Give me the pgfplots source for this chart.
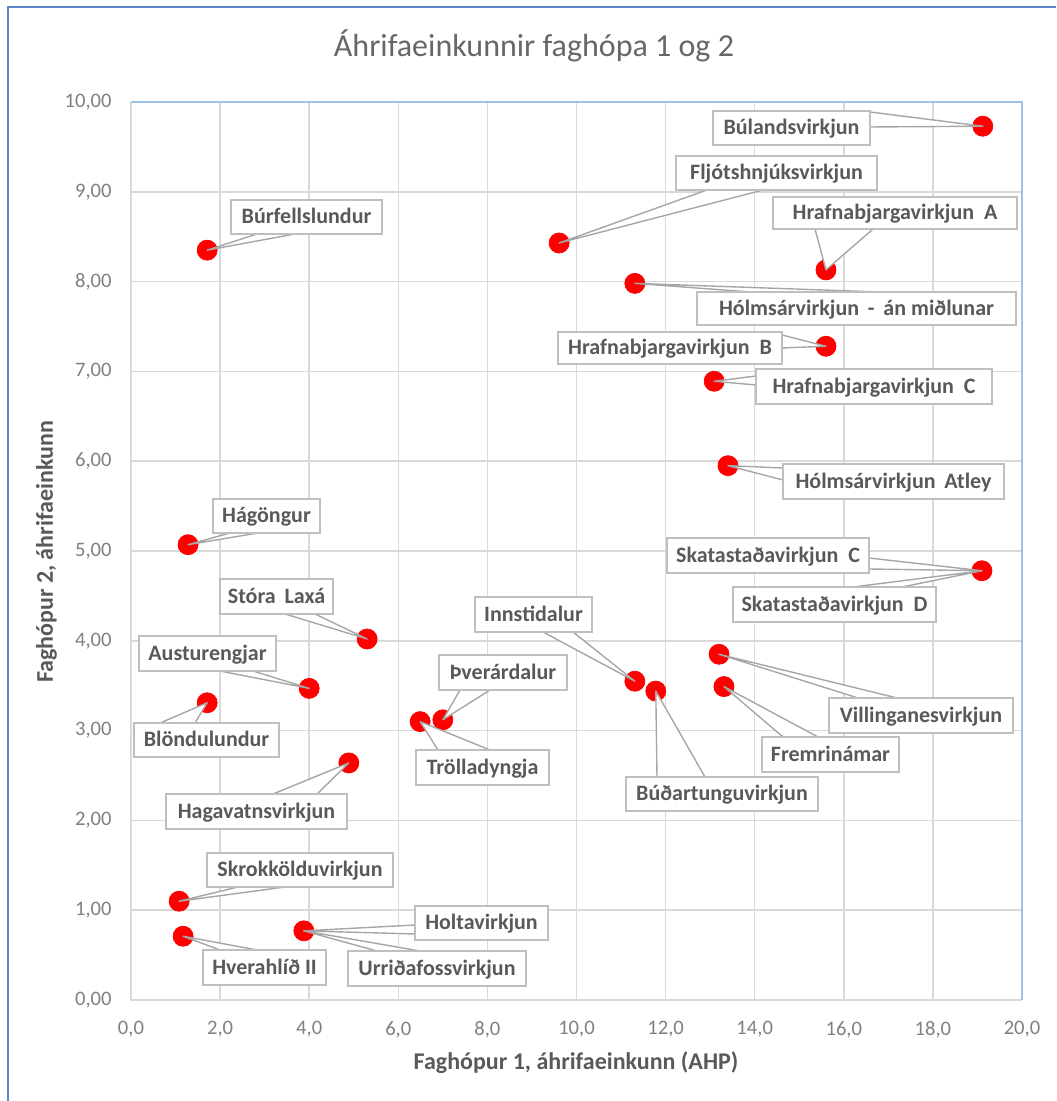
\documentclass[border=0pt]{standalone}
\usepackage{fontspec}
\setmainfont{Carlito}
\usepackage{pgfplots}
\usepackage{pgfplotstable}
\pgfplotsset{compat=1.18}
\definecolor{gridgray}{HTML}{D9D9D9}
\definecolor{txtgray}{HTML}{595959}
\definecolor{titlegray}{HTML}{676767}
\definecolor{tickgray}{HTML}{808080}
\definecolor{boxgray}{HTML}{BFBFBF}
\definecolor{linegray}{HTML}{A6A6A6}
\definecolor{frameblue}{HTML}{5B87C8}
\definecolor{plotblue}{HTML}{9DC3E6}

\pgfplotstableread{
x y
19.12 9.73
9.61 8.43
15.60 8.13
1.71 8.35
11.31 7.98
15.60 7.28
13.09 6.89
13.40 5.95
1.28 5.07
19.10 4.78
5.30 4.02
4.00 3.47
1.71 3.31
11.31 3.55
7.00 3.12
6.49 3.10
11.78 3.44
13.20 3.85
13.31 3.49
4.89 2.64
1.08 1.10
1.17 0.71
3.88 0.77
}\datatab

\newcommand{\labfont}{\fontsize{11}{13}\selectfont\bfseries}
\newcommand{\wdg}[5]{\filldraw[fill=white,draw=linegray,line width=0.7pt,line join=round] (#2,#3) -- (#1) -- (#4,#5);}
\newcommand{\lbl}[5]{\filldraw[fill=white,draw=boxgray,line width=0.75pt] (#1,#3) rectangle (#2,#4);
  \node[anchor=base,inner sep=0pt,font=\labfont,text=txtgray] at ({(#1+#2)/2},{(#3+#4)/2+7}) {#5};}

\begin{document}
\begin{tikzpicture}
\useasboundingbox (-65.5pt,-50.5pt) rectangle (462.5pt,500pt);
\begin{axis}[
  at={(0,0)}, anchor=south west,
  scale only axis, width=445.5pt, height=449pt,
  xmin=0, xmax=20, ymin=0, ymax=10,
  xtick distance=2, ytick distance=1,
  grid=major, major grid style={gridgray, line width=0.75pt},
  major tick length=0pt,
  axis line style={draw=none},
  tick label style={font=\fontsize{10.3}{12}\selectfont, text=tickgray},
  x tick label style={anchor=north, inner sep=0pt, yshift=-10.5pt,
    /pgf/number format/.cd, fixed, fixed zerofill, precision=1, use comma, assume math mode=true, /tikz/.cd},
  y tick label style={anchor=east, inner sep=0pt, xshift=-9.5pt,
    /pgf/number format/.cd, fixed, fixed zerofill, precision=2, use comma, assume math mode=true, /tikz/.cd},
  clip=false,
]
\addplot[only marks, mark=*, mark size=5pt, mark options={fill=red, draw=red}] table {\datatab};
\draw[gridgray, line width=0.75pt] (rel axis cs:0,1) -- (rel axis cs:0,0) -- (rel axis cs:1,0);
\draw[plotblue, line width=0.75pt] (rel axis cs:0,1) -- (rel axis cs:1,1) -- (rel axis cs:1,0);
\path (axis cs:19.12,9.73) coordinate (p1);
\path (axis cs:9.61,8.43) coordinate (p2);
\path (axis cs:15.60,8.13) coordinate (p3);
\path (axis cs:1.71,8.35) coordinate (p4);
\path (axis cs:11.31,7.98) coordinate (p5);
\path (axis cs:15.60,7.28) coordinate (p6);
\path (axis cs:13.09,6.89) coordinate (p7);
\path (axis cs:13.40,5.95) coordinate (p8);
\path (axis cs:1.28,5.07) coordinate (p9);
\path (axis cs:19.10,4.78) coordinate (p10);
\path (axis cs:5.30,4.02) coordinate (p11);
\path (axis cs:4.00,3.47) coordinate (p12);
\path (axis cs:1.71,3.31) coordinate (p13);
\path (axis cs:11.31,3.55) coordinate (p14);
\path (axis cs:7.00,3.12) coordinate (p15);
\path (axis cs:6.49,3.10) coordinate (p16);
\path (axis cs:11.78,3.44) coordinate (p17);
\path (axis cs:13.20,3.85) coordinate (p18);
\path (axis cs:13.31,3.49) coordinate (p19);
\path (axis cs:4.89,2.64) coordinate (p20);
\path (axis cs:1.08,1.10) coordinate (p21);
\path (axis cs:1.17,0.71) coordinate (p22);
\path (axis cs:3.88,0.77) coordinate (p23);
\end{axis}
\begin{scope}[shift={(-65.5pt,500pt)}, x=0.5pt, y=-0.5pt]
\draw[frameblue, line width=1pt] (8,1101) -- (8,7) -- (1056,7);
\node[anchor=base, inner sep=0pt, font=\fontsize{16}{19}\selectfont, text=titlegray] at (534,57) {Áhrifaeinkunnir faghópa 1 og 2};
\node[anchor=base, inner sep=0pt, font=\fontsize{12}{14}\selectfont\bfseries, text=txtgray] at (576,1069) {Faghópur 1, áhrifaeinkunn (AHP)};
\node[anchor=base, rotate=90, inner sep=0pt, font=\fontsize{12}{14}\selectfont\bfseries, text=txtgray] at (53,552) {Faghópur 2, áhrifaeinkunn};
% wedges
\wdg{p1}{870}{112}{870}{127}
\wdg{p2}{707}{190}{763}{190}
\wdg{p3}{815}{229}{873}{229}
\wdg{p4}{257}{234}{295}{234}
\wdg{p5}{750}{292}{880}{292}
\wdg{p6}{782}{335}{782}{348}
\wdg{p7}{756}{376}{756}{385}
\wdg{p8}{783}{468}{783}{480}
\wdg{p9}{230}{533}{258}{533}
\wdg{p10}{869}{558}{869}{569}
\wdg{p10}{853}{587}{902}{587}
\wdg{p11}{285}{614}{315}{614}
\wdg{p12}{220}{671}{253}{671}
\wdg{p13}{160}{723}{195}{723}
\wdg{p14}{543}{632}{573}{632}
\wdg{p15}{460}{690}{490}{690}
\wdg{p16}{438}{750}{490}{750}
\wdg{p17}{657}{777}{705}{777}
\wdg{p18}{858}{698}{897}{698}
\wdg{p19}{783}{737}{818}{737}
\wdg{p20}{273}{794}{317}{794}
\wdg{p21}{238}{887}{285}{887}
\wdg{p22}{220}{950}{257}{950}
\wdg{p23}{415}{925}{415}{934}
\wdg{p23}{377}{951}{420}{951}
% boxes
\lbl{713}{870}{111}{145}{Búlandsvirkjun}
\lbl{676}{877}{156}{190}{Fljótshnjúksvirkjun}
\lbl{773}{1017}{197}{229}{Hrafnabjargavirkjun\hspace{0.45em}A}
\lbl{231}{382}{200}{234}{Búrfellslundur}
\lbl{697}{1016}{292}{325}{Hólmsárvirkjun\hspace{0.4em}-\hspace{0.4em}án miðlunar}
\lbl{558}{782}{332}{364}{Hrafnabjargavirkjun\hspace{0.45em}B}
\lbl{756}{992}{369}{404}{Hrafnabjargavirkjun\hspace{0.45em}C}
\lbl{783}{1004}{464}{499}{Hólmsárvirkjun\hspace{0.4em}Atley}
\lbl{213}{320}{499}{533}{Hágöngur}
\lbl{667}{869}{538}{573}{Skatastaðavirkjun\hspace{0.45em}C}
\lbl{733}{936}{587}{622}{Skatastaðavirkjun\hspace{0.45em}D}
\lbl{220}{333}{579}{614}{Stóra\hspace{0.4em}Laxá}
\lbl{139}{276}{636}{671}{Austurengjar}
\lbl{134}{279}{723}{757}{Blöndulundur}
\lbl{475}{592}{597}{632}{Innstidalur}
\lbl{439}{567}{655}{690}{Þverárdalur}
\lbl{416}{549}{750}{785}{Trölladyngja}
\lbl{626}{818}{777}{811}{Búðartunguvirkjun}
\lbl{829}{1013}{698}{733}{Villinganesvirkjun}
\lbl{762}{899}{737}{772}{Fremrinámar}
\lbl{166}{347}{794}{829}{Hagavatnsvirkjun}
\lbl{207}{393}{853}{887}{Skrokkölduvirkjun}
\lbl{203}{326}{950}{985}{Hverahlíð II}
\lbl{415}{548}{906}{940}{Holtavirkjun}
\lbl{348}{526}{951}{986}{Urriðafossvirkjun}
\end{scope}
\end{tikzpicture}
\end{document}
